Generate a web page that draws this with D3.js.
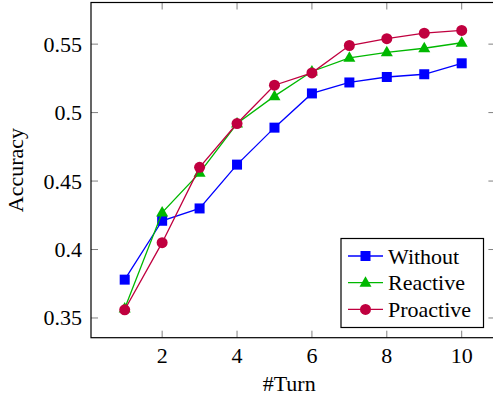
<!DOCTYPE html>
<html>
<head>
<meta charset="utf-8">
<script src="https://cdn.jsdelivr.net/npm/d3@7"></script>
<style>
  html, body { margin: 0; padding: 0; background: #fff; }
</style>
</head>
<body>
<div id="chart"></div>
<script>
// accuracy per turn
const turns = [1, 2, 3, 4, 5, 6, 7, 8, 9, 10];
const withoutVals = [0.378, 0.421, 0.430, 0.462, 0.489, 0.514, 0.522, 0.526, 0.528, 0.536];
const reactiveVals = [0.357, 0.427, 0.456, 0.492, 0.512, 0.530, 0.540, 0.544, 0.547, 0.551];
const proactiveVals = [0.356, 0.405, 0.460, 0.492, 0.520, 0.529, 0.549, 0.554, 0.558, 0.560];

const xTicks = [2, 4, 6, 8, 10];
const yTicks = [0.35, 0.4, 0.45, 0.5, 0.55];
const yTickLabels = ["0.35", "0.4", "0.45", "0.5", "0.55"];

const series = [
    { name: "Without", values: withoutVals, color: "#0000ff", mark: "square" },
    { name: "Reactive", values: reactiveVals, color: "#00b800", mark: "triangle" },
    { name: "Proactive", values: proactiveVals, color: "#c0003f", mark: "circle" }
];

const width = 493, height = 399;
const plot = { left: 91, right: 495.4, top: 2.5, bottom: 337.7 };
const FONT = "Liberation Serif";

const svg = d3.select("#chart").append("svg")
    .attr("width", width)
    .attr("height", height);

// pgfplots-style enlarged limits
const x = d3.scaleLinear().domain([0.1, 10.9]).range([plot.left, plot.right]);
const y = d3.scaleLinear().domain([0.3356, 0.5804]).range([plot.bottom, plot.top]);

const tickLen = 7;
const tickColor = "#808080";

// inner ticks, mirrored on the opposite sides
const ticks = svg.append("g").attr("stroke", tickColor).attr("stroke-width", 1);
xTicks.forEach(t => {
    ticks.append("line").attr("x1", x(t)).attr("x2", x(t))
        .attr("y1", plot.bottom).attr("y2", plot.bottom - tickLen);
    ticks.append("line").attr("x1", x(t)).attr("x2", x(t))
        .attr("y1", plot.top).attr("y2", plot.top + tickLen);
});
yTicks.forEach(t => {
    ticks.append("line").attr("x1", plot.left).attr("x2", plot.left + tickLen)
        .attr("y1", y(t)).attr("y2", y(t));
    ticks.append("line").attr("x1", plot.right).attr("x2", plot.right - tickLen)
        .attr("y1", y(t)).attr("y2", y(t));
});

// frame
svg.append("rect")
    .attr("x", plot.left).attr("y", plot.top)
    .attr("width", plot.right - plot.left)
    .attr("height", plot.bottom - plot.top)
    .attr("fill", "none")
    .attr("stroke", "#000")
    .attr("stroke-width", 1.2);

// tick labels
svg.append("g").selectAll("text").data(xTicks).join("text")
    .attr("x", d => x(d))
    .attr("y", 363)
    .attr("text-anchor", "middle")
    .attr("font-family", FONT)
    .attr("font-size", 22)
    .text(d => d);

svg.append("g").selectAll("text").data(yTicks).join("text")
    .attr("x", 82)
    .attr("y", d => y(d) + 7.5)
    .attr("text-anchor", "end")
    .attr("font-family", FONT)
    .attr("font-size", 22)
    .text((d, i) => yTickLabels[i]);

// axis titles
svg.append("text")
    .attr("x", (plot.left + plot.right) / 2 - 4)
    .attr("y", 391)
    .attr("text-anchor", "middle")
    .attr("font-family", FONT)
    .attr("font-size", 22)
    .text("#Turn");

svg.append("text")
    .attr("transform", `translate(23, ${(plot.top + plot.bottom) / 2}) rotate(-90)`)
    .attr("text-anchor", "middle")
    .attr("font-family", FONT)
    .attr("font-size", 22)
    .text("Accuracy");

function drawMark(g, kind, cx, cy, color) {
    if (kind === "square") {
        g.append("rect").attr("x", cx - 5).attr("y", cy - 5)
            .attr("width", 10).attr("height", 10).attr("fill", color);
    } else if (kind === "triangle") {
        g.append("path")
            .attr("d", `M${cx},${cy - 6.5}L${cx + 6},${cy + 4}L${cx - 6},${cy + 4}Z`)
            .attr("fill", color);
    } else {
        g.append("circle").attr("cx", cx).attr("cy", cy).attr("r", 5.5).attr("fill", color);
    }
}

const line = d3.line()
    .x((d, i) => x(turns[i]))
    .y(d => y(d));

series.forEach(s => {
    const g = svg.append("g");
    g.append("path")
        .datum(s.values)
        .attr("fill", "none")
        .attr("stroke", s.color)
        .attr("stroke-width", 1.3)
        .attr("d", line);
    s.values.forEach((v, i) => drawMark(g, s.mark, x(turns[i]), y(v), s.color));
});

// legend
const legend = svg.append("g");
legend.append("rect")
    .attr("x", 341).attr("y", 238.5)
    .attr("width", 142.5).attr("height", 89)
    .attr("fill", "#fff")
    .attr("stroke", "#000")
    .attr("stroke-width", 1.2);

series.forEach((s, i) => {
    const ly = 256 + i * 26.7;
    legend.append("line")
        .attr("x1", 348).attr("x2", 383)
        .attr("y1", ly).attr("y2", ly)
        .attr("stroke", s.color).attr("stroke-width", 1.3);
    drawMark(legend, s.mark, 365.5, ly, s.color);
    legend.append("text")
        .attr("x", 388)
        .attr("y", ly + 7.5)
        .attr("font-family", FONT)
        .attr("font-size", 22)
        .text(s.name);
});
</script>
</body>
</html>
